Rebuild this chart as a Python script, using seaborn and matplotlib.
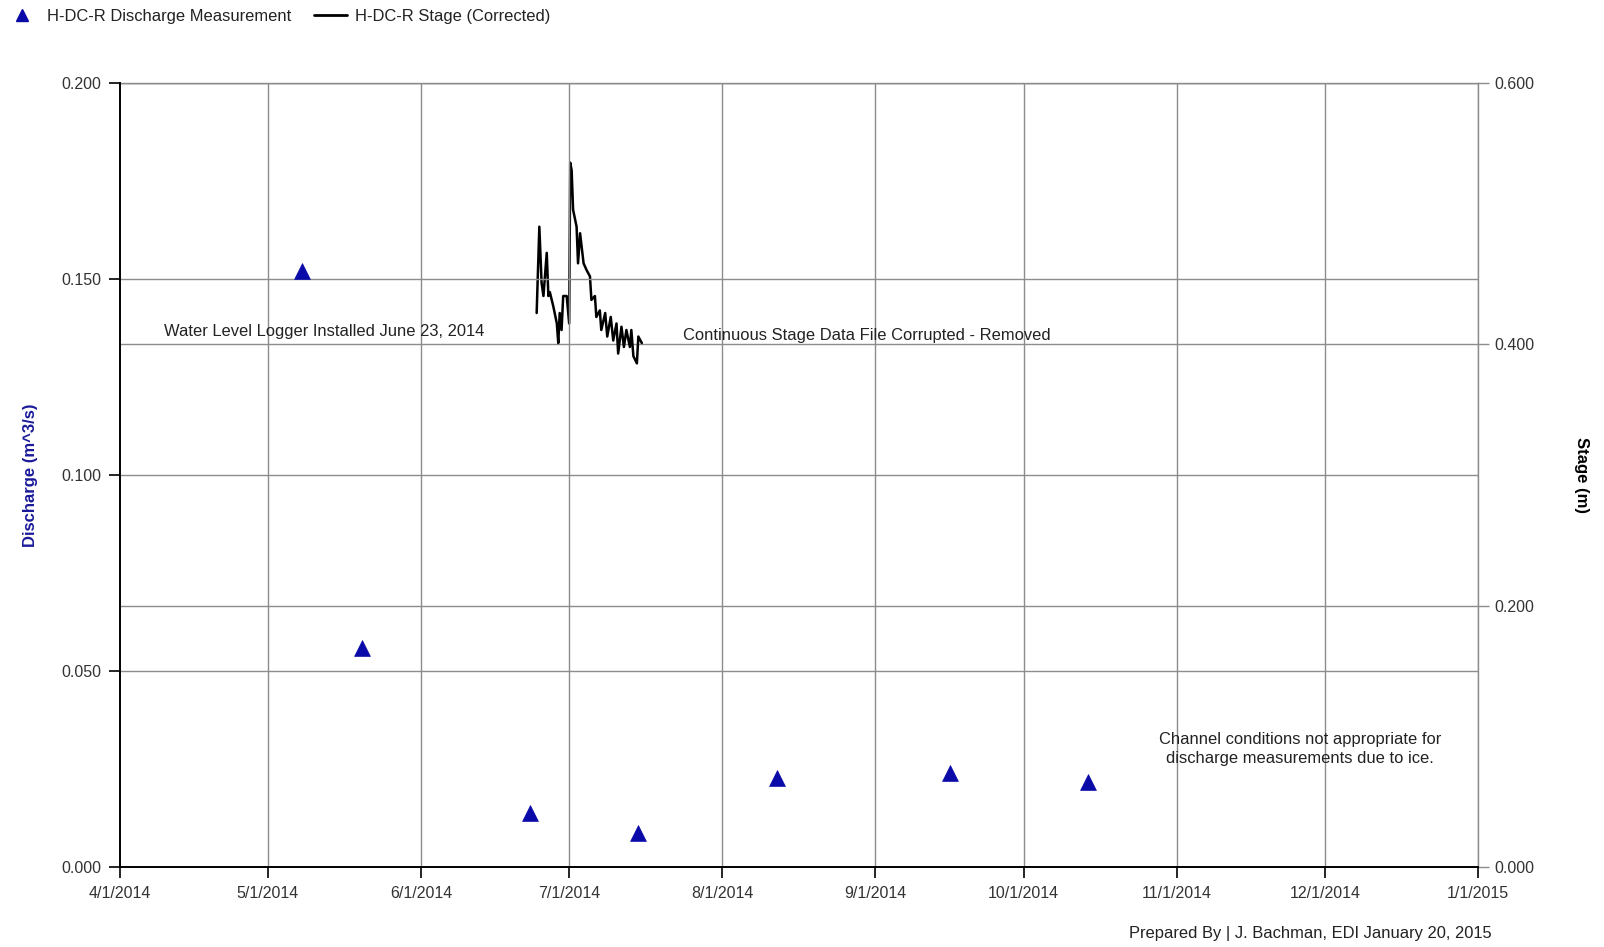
import matplotlib
matplotlib.use("Agg")
import matplotlib.pyplot as plt
import seaborn as sns
import pandas as pd
from matplotlib.lines import Line2D

# ---- data ----
discharge_dates = ["2014-05-08", "2014-05-20", "2014-06-23", "2014-07-15",
                   "2014-08-12", "2014-09-16", "2014-10-14"]
discharge_values = [0.152, 0.056, 0.0138, 0.0089, 0.0228, 0.0240, 0.0218]

stage_times = [
    "2014-06-24 10:00", "2014-06-24 23:00", "2014-06-25 10:00", "2014-06-25 19:00",
    "2014-06-26 11:00", "2014-06-26 19:00", "2014-06-27 02:00", "2014-06-27 19:00",
    "2014-06-28 12:00", "2014-06-28 19:00", "2014-06-29 02:00", "2014-06-29 11:00",
    "2014-06-29 19:00", "2014-06-30 12:00", "2014-07-01 00:00", "2014-07-01 05:00",
    "2014-07-01 12:00", "2014-07-01 19:00", "2014-07-02 12:00", "2014-07-02 19:00",
    "2014-07-03 05:00", "2014-07-03 22:00", "2014-07-04 12:00", "2014-07-05 05:00",
    "2014-07-05 12:00", "2014-07-06 05:00", "2014-07-06 12:00", "2014-07-07 05:00",
    "2014-07-07 12:00", "2014-07-08 07:00", "2014-07-08 17:00", "2014-07-09 10:00",
    "2014-07-09 22:00", "2014-07-10 14:00", "2014-07-10 22:00", "2014-07-11 14:00",
    "2014-07-12 02:00", "2014-07-12 14:00", "2014-07-13 07:00", "2014-07-13 14:00",
    "2014-07-14 00:00", "2014-07-14 17:00", "2014-07-15 00:00", "2014-07-15 17:00",
]
stage_values = [
    0.424, 0.490, 0.447, 0.437, 0.470, 0.437, 0.440, 0.429,
    0.416, 0.401, 0.424, 0.411, 0.437, 0.437, 0.416, 0.539,
    0.533, 0.503, 0.490, 0.462, 0.485, 0.462, 0.457, 0.452,
    0.434, 0.437, 0.421, 0.426, 0.411, 0.424, 0.406, 0.421,
    0.403, 0.416, 0.393, 0.4135, 0.398, 0.411, 0.398, 0.411,
    0.391, 0.3855, 0.406, 0.401,
]

month_ticks = ["2014-04-01", "2014-05-01", "2014-06-01", "2014-07-01", "2014-08-01",
               "2014-09-01", "2014-10-01", "2014-11-01", "2014-12-01", "2015-01-01"]
left_ticks = [0.0, 0.05, 0.10, 0.15, 0.20]
right_ticks = [0.0, 0.2, 0.4, 0.6]

# ---- frames ----
dq = pd.DataFrame({"date": pd.to_datetime(discharge_dates), "discharge": discharge_values})
ds = pd.DataFrame({"time": pd.to_datetime(stage_times), "stage": stage_values})

sns.set_theme(style="white")
plt.rcParams["font.family"] = ["Liberation Sans", "DejaVu Sans"]
plt.rcParams["font.size"] = 11

fig = plt.figure(figsize=(16.04, 9.47), dpi=100)
ax = fig.add_axes([0.0746, 0.0840, 0.8469, 0.8285])
ax2 = ax.twinx()

grid_c = "#8c8c8c"
navy = "#0a0aa8"

xmin, xmax = pd.Timestamp("2014-04-01"), pd.Timestamp("2015-01-01")

# grid lines (monthly verticals, left and right horizontal)
for t in month_ticks[1:]:
    ax.axvline(pd.Timestamp(t), color=grid_c, lw=1.0, zorder=0)
for v in left_ticks[1:]:
    ax.axhline(v, color=grid_c, lw=1.0, zorder=0)
for v in right_ticks[1:]:
    ax2.axhline(v, color=grid_c, lw=1.0, zorder=0)

# stage line
sns.lineplot(data=ds, x="time", y="stage", ax=ax2, color="black", lw=1.8,
             legend=False, zorder=3)
# discharge points
sns.scatterplot(data=dq, x="date", y="discharge", ax=ax, marker="^", s=130,
                color=navy, edgecolor=navy, linewidth=0.5, zorder=5, legend=False)
ax.set_zorder(ax2.get_zorder() + 1)
ax.patch.set_visible(False)

ax.set_xlim(xmin, xmax)
ax.set_ylim(0, 0.2)
ax2.set_ylim(0, 0.6)

ax.set_xticks(pd.to_datetime(month_ticks))
ax.set_xticklabels([f"{d.month}/{d.day}/{d.year}" for d in pd.to_datetime(month_ticks)],
                   fontsize=11.5, color="#333333")
ax.set_yticks(left_ticks)
ax.set_yticklabels([f"{v:.3f}" for v in left_ticks], fontsize=11.5, color="#333333")
ax2.set_yticks(right_ticks)
ax2.set_yticklabels([f"{v:.3f}" for v in right_ticks], fontsize=11.5, color="#333333")

ax.tick_params(axis="both", direction="out", length=8, width=1.2, color="black", pad=5,
               left=True, bottom=True)
ax2.tick_params(axis="y", direction="out", length=8, width=1.0, color=grid_c, pad=4, right=True)

for s in ["left", "bottom"]:
    ax.spines[s].set_color("black")
    ax.spines[s].set_linewidth(1.4)
ax.spines["top"].set_visible(False)
ax.spines["right"].set_visible(False)
for s in ["left", "bottom"]:
    ax2.spines[s].set_visible(False)
ax2.spines["top"].set_color(grid_c)
ax2.spines["top"].set_linewidth(1.0)
ax2.spines["right"].set_color(grid_c)
ax2.spines["right"].set_linewidth(1.0)

ax.set_xlabel("")
ax2.set_xlabel("")
ax.set_ylabel("Discharge (m^3/s)", color="#1a1a9a", fontsize=12, fontweight="bold", labelpad=17)
ax2.set_ylabel("Stage (m)", color="black", fontsize=12, fontweight="bold", rotation=270,
               labelpad=28, va="bottom")

# annotations
ax.text(pd.Timestamp("2014-04-10"), 0.1365, "Water Level Logger Installed June 23, 2014",
        fontsize=11.9, color="#222222", va="center", ha="left")
ax.text(pd.Timestamp("2014-07-24"), 0.1355, "Continuous Stage Data File Corrupted - Removed",
        fontsize=11.9, color="#222222", va="center", ha="left")
ax.text(pd.Timestamp("2014-11-26"), 0.0302,
        "Channel conditions not appropriate for\ndischarge measurements due to ice.",
        fontsize=11.9, color="#222222", va="center", ha="center", linespacing=1.3)
fig.text(0.9298, 0.006, "Prepared By | J. Bachman, EDI January 20, 2015",
         fontsize=11.9, color="#222222", ha="right", va="bottom")

# legend
handles = [
    Line2D([], [], marker="^", color=navy, linestyle="none", markersize=8),
    Line2D([], [], color="black", lw=2),
]
fig.legend(handles, ["H-DC-R Discharge Measurement", "H-DC-R Stage (Corrected)"],
           loc="upper left", bbox_to_anchor=(-0.006, 1.006), ncol=2, frameon=False,
           fontsize=11.9, handlelength=2.0, columnspacing=1.4, handletextpad=0.5,
           labelcolor="#222222")

fig.savefig("out.png", dpi=100)
